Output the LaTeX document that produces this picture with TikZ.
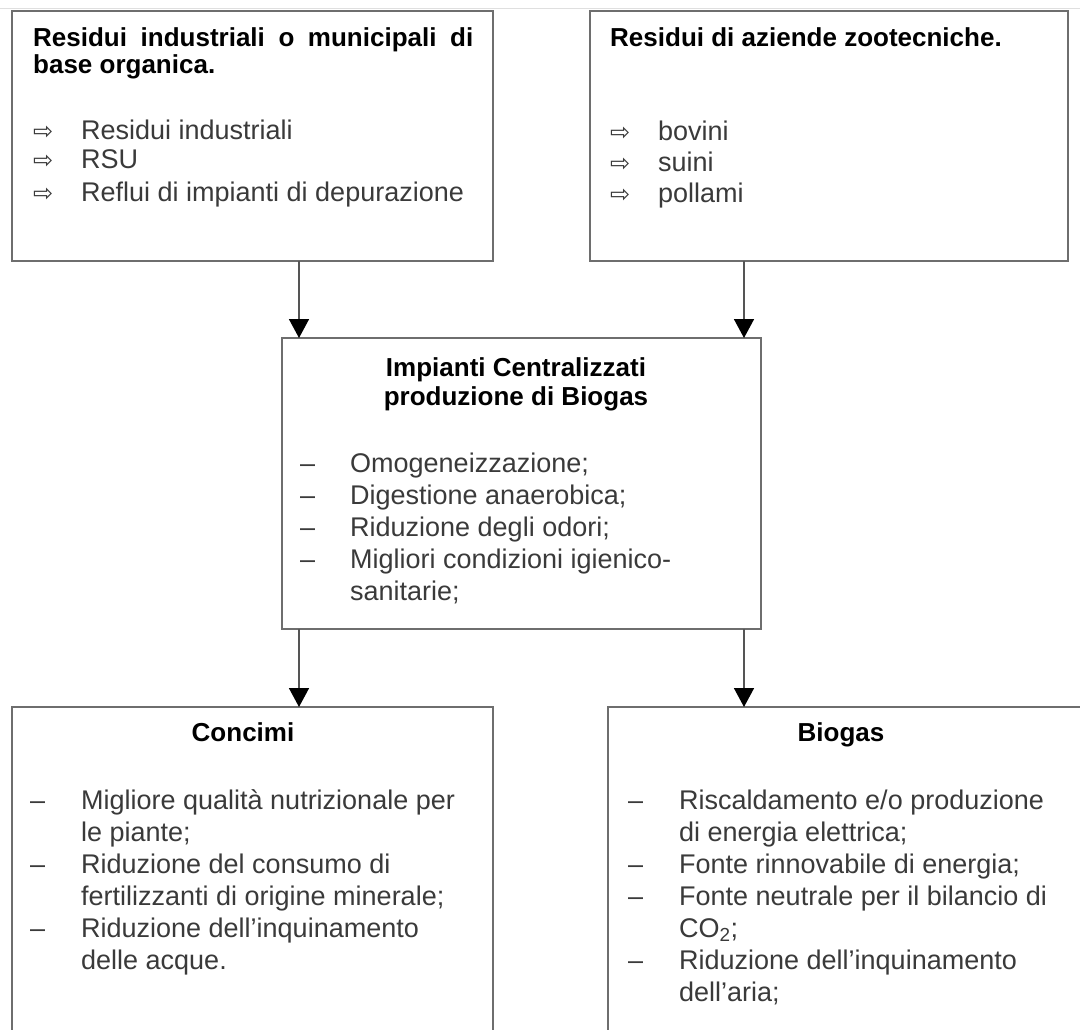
\documentclass[tikz,border=0pt]{standalone}
\usepackage{fontspec}
\setmainfont{Liberation Sans}
\newfontfamily\arrowfont{DejaVu Sans}
\usetikzlibrary{arrows.meta}
\definecolor{boxgray}{HTML}{6E6E6E}
\definecolor{linegray}{HTML}{555555}
\definecolor{bodygray}{HTML}{3A3A3A}
\tikzset{
  panel/.style={draw=boxgray, line width=2pt, fill=white, anchor=north west, inner sep=0pt, outer sep=0pt},
  head/.style={font=\fontsize{26}{30}\selectfont\bfseries, text=black, inner sep=0pt, anchor=base},
  headl/.style={head, anchor=base west},
  body/.style={font=\fontsize{27}{32}\selectfont, text=bodygray, inner sep=0pt, anchor=base west},
  arrowbullet/.style={font=\arrowfont\fontsize{24}{28}\selectfont, text=bodygray, inner sep=0pt, anchor=base west},
  conn/.style={draw=linegray, line width=1.6pt, -{Triangle[width=20pt,length=19pt,color=black,fill=black]}},
}
\begin{document}
\begin{tikzpicture}[x=1pt,y=-1pt]
\useasboundingbox (0,0) rectangle (1080,1030);
\clip (0,0) rectangle (1080,1030);
\fill[white] (0,0) rectangle (1080,1030);
\draw[gray!25, line width=1pt] (0,9) -- (1080,9);

% boxes
\node[panel, minimum width=481pt, minimum height=250pt] (tl) at (12,11) {};
\node[panel, minimum width=478pt, minimum height=250pt] (tr) at (590,11) {};
\node[panel, minimum width=479pt, minimum height=291pt] (mid) at (282,338) {};
\node[panel, minimum width=481pt, minimum height=400pt] (bl) at (12,707) {};
\node[panel, minimum width=500pt, minimum height=400pt] (br) at (608,707) {};

% connectors
\coordinate (m1) at ([xshift=17pt]mid.north west);
\coordinate (m2) at ([xshift=-17pt]mid.north east);
\coordinate (b1) at ([xshift=17pt]mid.south west);
\coordinate (b2) at ([xshift=-17pt]mid.south east);
\draw[conn] (tl.south -| m1) -- (m1);
\draw[conn] (tr.south -| m2) -- (m2);
\draw[conn] (b1) -- (bl.north -| b1);
\draw[conn] (b2) -- (br.north -| b2);

% top-left
\node[headl] (tlh1) at (33,47) {\makebox[440pt][s]{Residui industriali o municipali di}};
\node[headl] (tlh2) at (33,74) {base organica.};
\node[arrowbullet] (tla1) at (33,140) {⇨};
\node[arrowbullet] (tla2) at (33,169) {⇨};
\node[arrowbullet] (tla3) at (33,201) {⇨};
\node[body] (tlt1) at (81,140) {Residui industriali};
\node[body] (tlt2) at (81,169) {RSU};
\node[body] (tlt3) at (81,201) {Reflui di impianti di depurazione};

% top-right
\node[headl] (trh1) at (610,47) {Residui di aziende zootecniche.};
\node[arrowbullet] (tra1) at (610,141) {⇨};
\node[arrowbullet] (tra2) at (610,172) {⇨};
\node[arrowbullet] (tra3) at (610,203) {⇨};
\node[body] (trt1) at (658,141) {bovini};
\node[body] (trt2) at (658,172) {suini};
\node[body] (trt3) at (658,203) {pollami};

% middle
\node[head] (mh1) at (516,376) {Impianti Centralizzati};
\node[head] (mh2) at (516,405) {produzione di Biogas};
\node[body] (md1) at (300,472) {–};
\node[body] (md2) at (300,504) {–};
\node[body] (md3) at (300,536) {–};
\node[body] (md4) at (300,568) {–};
\node[body] (mt1) at (350,472) {Omogeneizzazione;};
\node[body] (mt2) at (350,504) {Digestione anaerobica;};
\node[body] (mt3) at (350,536) {Riduzione degli odori;};
\node[body] (mt4) at (350,568) {Migliori condizioni igienico-};
\node[body] (mt5) at (350,600) {sanitarie;};

% bottom-left
\node[head] (blh) at (243,741) {Concimi};
\node[body] (bld1) at (30,809) {–};
\node[body] (bld2) at (30,873) {–};
\node[body] (bld3) at (30,937) {–};
\node[body] (blt1) at (81,809) {Migliore qualità nutrizionale per};
\node[body] (blt2) at (81,841) {le piante;};
\node[body] (blt3) at (81,873) {Riduzione del consumo di};
\node[body] (blt4) at (81,905) {fertilizzanti di origine minerale;};
\node[body] (blt5) at (81,937) {Riduzione dell'inquinamento};
\node[body] (blt6) at (81,969) {delle acque.};

% bottom-right
\node[head] (brh) at (841,741) {Biogas};
\node[body] (brd1) at (628,809) {–};
\node[body] (brd2) at (628,873) {–};
\node[body] (brd3) at (628,905) {–};
\node[body] (brd4) at (628,969) {–};
\node[body] (brt1) at (679,809) {Riscaldamento e/o produzione};
\node[body] (brt2) at (679,841) {di energia elettrica;};
\node[body] (brt3) at (679,873) {Fonte rinnovabile di energia;};
\node[body] (brt4) at (679,905) {Fonte neutrale per il bilancio di};
\node[body] (brt5) at (679,937) {CO\textsubscript{2};};
\node[body] (brt6) at (679,969) {Riduzione dell'inquinamento};
\node[body] (brt7) at (679,1001) {dell'aria;};
\end{tikzpicture}
\end{document}
